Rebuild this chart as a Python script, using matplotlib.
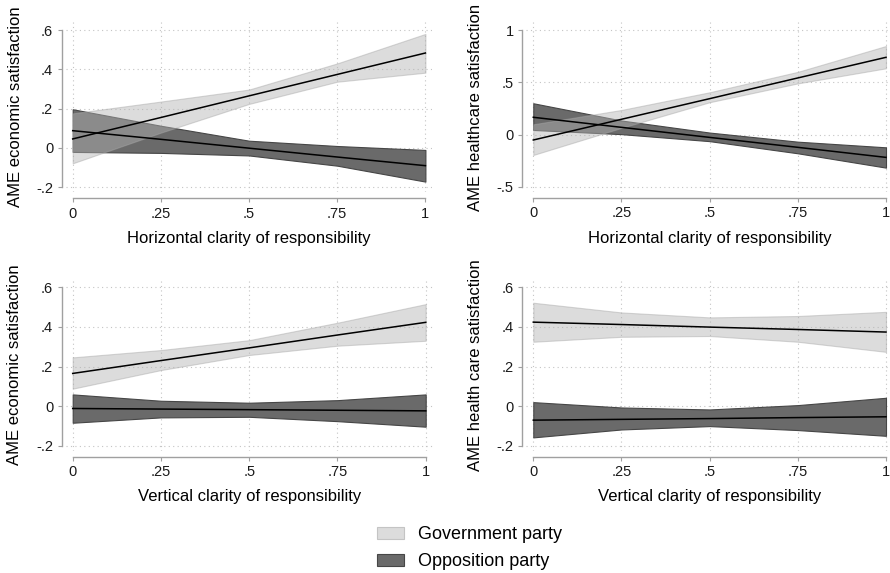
### AME plots: government vs opposition party ###

# Import libraries
import matplotlib
matplotlib.use('Agg')
import matplotlib.pyplot as plt
from matplotlib.patches import Patch

plt.rcParams['font.family'] = ['Liberation Sans', 'DejaVu Sans']

# Clarity values on the x axis
clarity = [0, 0.25, 0.5, 0.75, 1]

# Panel 1: horizontal clarity, economic satisfaction
p1_gov_mean = [0.046, 0.155, 0.265, 0.374, 0.483]
p1_gov_lo = [-0.078, 0.078, 0.224, 0.337, 0.383]
p1_gov_hi = [0.176, 0.236, 0.297, 0.430, 0.580]
p1_opp_mean = [0.088, 0.044, -0.001, -0.046, -0.090]
p1_opp_lo = [-0.020, -0.025, -0.038, -0.090, -0.171]
p1_opp_hi = [0.197, 0.113, 0.037, 0.010, -0.010]

# Panel 2: horizontal clarity, healthcare satisfaction
p2_gov_mean = [-0.051, 0.147, 0.344, 0.542, 0.739]
p2_gov_lo = [-0.194, 0.065, 0.310, 0.490, 0.634]
p2_gov_hi = [0.099, 0.236, 0.405, 0.600, 0.847]
p2_opp_mean = [0.166, 0.070, -0.026, -0.121, -0.217]
p2_opp_lo = [0.045, 0.005, -0.062, -0.178, -0.315]
p2_opp_hi = [0.300, 0.135, 0.020, -0.067, -0.121]

# Panel 3: vertical clarity, economic satisfaction
p3_gov_mean = [0.165, 0.230, 0.294, 0.359, 0.423]
p3_gov_lo = [0.088, 0.182, 0.258, 0.305, 0.330]
p3_gov_hi = [0.246, 0.283, 0.333, 0.421, 0.515]
p3_opp_mean = [-0.012, -0.015, -0.018, -0.021, -0.024]
p3_opp_lo = [-0.084, -0.057, -0.054, -0.076, -0.104]
p3_opp_hi = [0.059, 0.027, 0.017, 0.030, 0.059]

# Panel 4: vertical clarity, health care satisfaction
p4_gov_mean = [0.424, 0.412, 0.399, 0.387, 0.374]
p4_gov_lo = [0.325, 0.350, 0.354, 0.325, 0.274]
p4_gov_hi = [0.522, 0.473, 0.448, 0.455, 0.476]
p4_opp_mean = [-0.071, -0.067, -0.063, -0.058, -0.054]
p4_opp_lo = [-0.158, -0.118, -0.101, -0.121, -0.150]
p4_opp_hi = [0.020, -0.007, -0.017, 0.005, 0.042]

# Tick values and labels
x_ticks = [0, 0.25, 0.5, 0.75, 1]
x_ticklabels = ['0', '.25', '.5', '.75', '1']
y_ticks_small = [-0.2, 0, 0.2, 0.4, 0.6]
y_ticklabels_small = ['-.2', '0', '.2', '.4', '.6']
y_ticks_big = [-0.5, 0, 0.5, 1]
y_ticklabels_big = ['-.5', '0', '.5', '1']

legend_labels = ['Government party', 'Opposition party']

###############################################################################

### Layout (pixel anchors measured on an 890x573 canvas) ###

W, H = 890, 573
fig = plt.figure(figsize=(W / 100, H / 100), dpi=100)

gov_face = '#b3b3b3'
gov_edge = '#a8a8a8'
opp_face = '#6a6a6a'
opp_edge = '#464646'
axis_grey = '#a0a0a0'


def make_panel(x0, x1, ytop_val, ytop_px, ybot_val, ybot_px, ylab_x, xlab_y):
    # data 0 and 1 sit at x0/x1 px, the outer y ticks at ytop_px/ybot_px
    sx = x1 - x0
    sy = (ybot_px - ytop_px) / (ytop_val - ybot_val)
    left, right = x0 - 7, x1 + 7
    top, bot = ytop_px - 8, ybot_px + 5
    ax = fig.add_axes([left / W, 1 - bot / H, (right - left) / W, (bot - top) / H])
    ax.set_xlim(-7 / sx, 1 + 7 / sx)
    ax.set_ylim(ybot_val - 5 / sy, ytop_val + 8 / sy)
    ax.spines['top'].set_visible(False)
    ax.spines['right'].set_visible(False)
    ax.spines['left'].set_position(('outward', 3))
    ax.spines['bottom'].set_position(('outward', 4.3))
    ax.spines['left'].set_bounds(ybot_val, ytop_val)
    ax.spines['bottom'].set_bounds(0, 1)
    for s in ['left', 'bottom']:
        ax.spines[s].set_color(axis_grey)
        ax.spines[s].set_linewidth(1)
    ax.tick_params(direction='out', length=3, width=0.8, color=axis_grey,
                   labelcolor='#1a1a1a', labelsize=10.5, pad=3)
    ax.grid(True, linestyle=(0, (1, 3)), color='#c4c4c4', linewidth=0.8)
    ax.set_axisbelow(True)
    ax.ylab_frac = (ylab_x - left) / (right - left)
    ax.xlab_frac = (bot - xlab_y) / (bot - top)
    return ax


def draw(ax, gov_mean, gov_lo, gov_hi, opp_mean, opp_lo, opp_hi):
    ax.fill_between(clarity, opp_lo, opp_hi, facecolor=opp_face,
                    edgecolor=opp_edge, linewidth=0.8, zorder=2)
    ax.fill_between(clarity, gov_lo, gov_hi, facecolor=gov_face, alpha=0.46,
                    edgecolor=gov_edge, linewidth=0.8, zorder=2.1)
    ax.plot(clarity, gov_mean, color='black', linewidth=1.1, zorder=3)
    ax.plot(clarity, opp_mean, color='black', linewidth=1.1, zorder=3)


def label(ax, xlabel, ylabel, yticks, yticklabels):
    ax.set_xticks(x_ticks)
    ax.set_xticklabels(x_ticklabels)
    ax.set_yticks(yticks)
    ax.set_yticklabels(yticklabels)
    ax.set_xlabel(xlabel, fontsize=12, va='center')
    ax.set_ylabel(ylabel, fontsize=12, va='center')
    ax.xaxis.set_label_coords(0.5, ax.xlab_frac)
    ax.yaxis.set_label_coords(ax.ylab_frac, 0.5)


ax1 = make_panel(72.7, 425.4, 0.6, 30, -0.2, 187.3, 15, 238)
draw(ax1, p1_gov_mean, p1_gov_lo, p1_gov_hi, p1_opp_mean, p1_opp_lo, p1_opp_hi)
label(ax1, 'Horizontal clarity of responsibility', 'AME economic satisfaction',
      y_ticks_small, y_ticklabels_small)

ax2 = make_panel(533.3, 886, 1, 30, -0.5, 187, 475, 238)
draw(ax2, p2_gov_mean, p2_gov_lo, p2_gov_hi, p2_opp_mean, p2_opp_lo, p2_opp_hi)
label(ax2, 'Horizontal clarity of responsibility', 'AME healthcare satisfaction',
      y_ticks_big, y_ticklabels_big)

ax3 = make_panel(72.7, 425.7, 0.6, 287.3, -0.2, 445.7, 15, 497)
draw(ax3, p3_gov_mean, p3_gov_lo, p3_gov_hi, p3_opp_mean, p3_opp_lo, p3_opp_hi)
label(ax3, 'Vertical clarity of responsibility', 'AME economic satisfaction',
      y_ticks_small, y_ticklabels_small)

ax4 = make_panel(533.3, 886, 0.6, 287.3, -0.2, 445.7, 475, 497)
draw(ax4, p4_gov_mean, p4_gov_lo, p4_gov_hi, p4_opp_mean, p4_opp_lo, p4_opp_hi)
label(ax4, 'Vertical clarity of responsibility', 'AME health care satisfaction',
      y_ticks_small, y_ticklabels_small)

# Shared legend at the bottom
handles = [Patch(facecolor='#dcdcdc', edgecolor='#c4c4c4', linewidth=0.8),
           Patch(facecolor=opp_face, edgecolor=opp_edge, linewidth=0.8)]
fig.legend(handles, legend_labels, loc='center', bbox_to_anchor=(0.5275, 0.0436),
           frameon=False, fontsize=13, handlelength=1.45, handleheight=0.67,
           labelspacing=0.55, handletextpad=0.78, borderpad=0, borderaxespad=0)

plt.savefig('out.png', dpi=100)
